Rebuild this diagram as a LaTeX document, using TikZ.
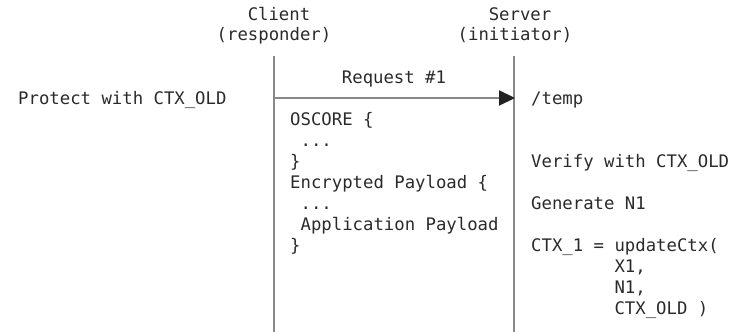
\documentclass[tikz,border=0pt]{standalone}
\usepackage{fontspec}
\setmonofont{DejaVu Sans Mono}
\usetikzlibrary{arrows.meta}
\definecolor{txt}{HTML}{2A2A2A}
\definecolor{lin}{HTML}{888888}
\definecolor{head}{HTML}{222222}
\begin{document}
\begin{tikzpicture}[x=1pt,y=-1pt,
  lbl/.style={inner sep=0pt,text=txt,font=\ttfamily\fontsize{17.3}{21}\selectfont,anchor=base west},
  lbc/.style={lbl,anchor=base},
  life/.style={draw=lin,line width=2.2pt},
  msg/.style={draw=lin,line width=2.2pt,-{Triangle[length=16pt,width=15pt,fill=head,color=head]}}]
\useasboundingbox (0,0) rectangle (737,332);
% headers
\node[lbc] (cl1) at (279,20) {Client};
\node[lbc] (cl2) at (274,41) {(responder)};
\node[lbc] (sv1) at (520,20) {Server};
\node[lbc] (sv2) at (515,41) {(initiator)};
% lifelines
\coordinate (ct) at (274,56);
\coordinate (cb) at (274,332);
\coordinate (st) at (514,56);
\coordinate (sb) at (514,332);
\draw[life] (ct) -- (cb);
\draw[life] (st) -- (sb);
% message
\coordinate (ma) at (274,98);
\coordinate (mb) at (515,98);
\draw[msg] (ma) -- (mb);
\node[lbc] (req) at (394,83) {Request \#1};
\node[lbl] (prot) at (18,104) {Protect with CTX\_OLD};
\node[lbl] (tmp) at (531,104) {/temp};
% client block
\node[lbl] (b1) at (290,125) {OSCORE \{};
\node[lbl] (b2) at (290,146) {\ ...};
\node[lbl] (b3) at (290,167) {\}};
\node[lbl] (b4) at (290,188) {Encrypted Payload \{};
\node[lbl] (b5) at (290,209) {\ ...};
\node[lbl] (b6) at (290,230) {\ Application Payload};
\node[lbl] (b7) at (290,251) {\}};
% server block
\node[lbl] (s1) at (531,167) {Verify with CTX\_OLD};
\node[lbl] (s2) at (531,209) {Generate N1};
\node[lbl] (s3) at (531,251) {CTX\_1 = updateCtx(};
\node[lbl] (s4) at (531,272) {\ \ \ \ \ \ \ \ X1,};
\node[lbl] (s5) at (531,293) {\ \ \ \ \ \ \ \ N1,};
\node[lbl] (s6) at (531,314) {\ \ \ \ \ \ \ \ CTX\_OLD )};
\end{tikzpicture}
\end{document}
